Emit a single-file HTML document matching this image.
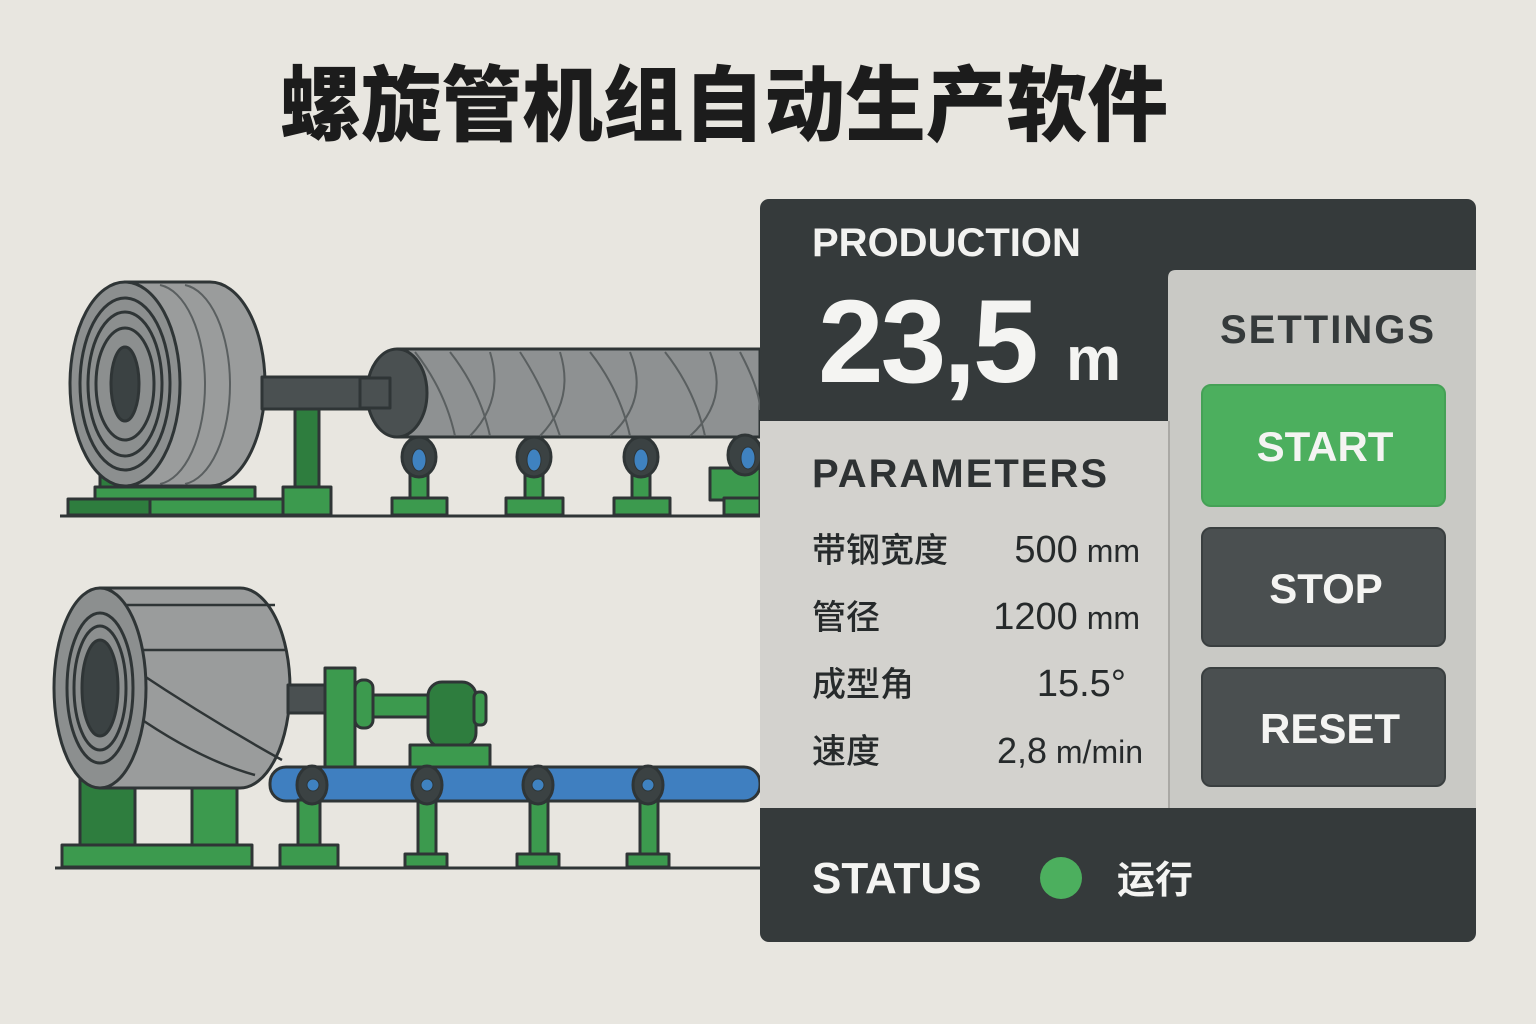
<!DOCTYPE html>
<html><head><meta charset="utf-8"><style>
html,body{margin:0;padding:0;background:#e8e6e0;}
svg{display:block}
text{font-family:"Liberation Sans","Noto Sans CJK SC",sans-serif;}
.cjk{font-family:"Noto Sans CJK SC","Liberation Sans",sans-serif;}
</style></head><body>
<svg width="1536" height="1024" viewBox="0 0 1536 1024" xmlns="http://www.w3.org/2000/svg">
<rect width="1536" height="1024" fill="#e8e6e0"/>
<text x="280" y="134" class="cjk" font-size="82" font-weight="900" fill="#1c1c1c" textLength="888" lengthAdjust="spacingAndGlyphs">螺旋管机组自动生产软件</text>

<g stroke="#2f3536" stroke-width="3" stroke-linejoin="round">
<!-- TOP MACHINE -->
<rect x="100" y="468" width="40" height="30" fill="#2e7d3e"/>
<rect x="180" y="468" width="40" height="30" fill="#2e7d3e"/>
<rect x="95" y="487" width="160" height="12" fill="#3c9a4e"/>
<rect x="68" y="499" width="105" height="16" fill="#2e7d3e"/>
<rect x="150" y="499" width="135" height="16" fill="#3c9a4e"/>
<!-- shaft support -->
<rect x="295" y="405" width="24" height="85" fill="#2e7d3e"/>
<rect x="283" y="487" width="48" height="28" fill="#3c9a4e"/>
<!-- coil drum -->
<path d="M125 282 L210 282 A55 102 0 0 1 210 486 L125 486 Z" fill="#9a9c9c"/>
<path d="M160 285 A50 100 0 0 1 160 484" fill="none" stroke="#5a5f60" stroke-width="2"/>
<path d="M185 285 A50 100 0 0 1 185 484" fill="none" stroke="#5a5f60" stroke-width="2"/>
<ellipse cx="125" cy="384" rx="55" ry="102" fill="#8c8f8f"/>
<ellipse cx="125" cy="384" rx="45" ry="86" fill="none"/>
<ellipse cx="125" cy="384" rx="37" ry="72" fill="none"/>
<ellipse cx="125" cy="384" rx="29" ry="56" fill="none"/>
<ellipse cx="125" cy="384" rx="14" ry="37" fill="#3b4243"/>
<!-- shaft -->
<rect x="262" y="377" width="135" height="32" fill="#4a5051"/>
<!-- tube -->
<path d="M397 349 L760 349 L760 437 L397 437" fill="#8e9192"/>
<ellipse cx="397" cy="393" rx="30" ry="44" fill="#4a5051"/>
<rect x="360" y="378" width="30" height="30" fill="#4a5051"/>
<g fill="none" stroke="#5a5f60" stroke-width="2">
<path d="M415 352 Q445 390 455 436"/><path d="M450 352 Q480 390 490 436"/>
<path d="M490 352 Q505 400 470 436"/><path d="M520 352 Q545 390 560 436"/>
<path d="M560 352 Q575 400 540 436"/><path d="M590 352 Q620 390 630 436"/>
<path d="M630 352 Q650 400 610 436"/><path d="M665 352 Q695 390 705 436"/>
<path d="M710 352 Q730 400 690 436"/><path d="M740 352 Q760 390 760 410"/>
</g>
<g fill="#3c9a4e">
<rect x="410" y="460" width="18" height="40"/><rect x="392" y="498" width="55" height="17"/>
<rect x="525" y="460" width="18" height="40"/><rect x="506" y="498" width="57" height="17"/>
<rect x="632" y="460" width="18" height="40"/><rect x="614" y="498" width="56" height="17"/>
<rect x="710" y="468" width="50" height="32"/><rect x="724" y="498" width="36" height="17"/>
</g>
<g>
<ellipse cx="419" cy="457" rx="17" ry="20" fill="#3b4243"/><ellipse cx="419" cy="460" rx="7" ry="11" fill="#3f82c0" stroke-width="1"/>
<ellipse cx="534" cy="457" rx="17" ry="20" fill="#3b4243"/><ellipse cx="534" cy="460" rx="7" ry="11" fill="#3f82c0" stroke-width="1"/>
<ellipse cx="641" cy="457" rx="17" ry="20" fill="#3b4243"/><ellipse cx="641" cy="460" rx="7" ry="11" fill="#3f82c0" stroke-width="1"/>
<ellipse cx="745" cy="455" rx="17" ry="20" fill="#3b4243"/><ellipse cx="748" cy="458" rx="7" ry="11" fill="#3f82c0" stroke-width="1"/>
</g>
<line x1="60" y1="516" x2="760" y2="516" stroke-width="3"/>

<!-- BOTTOM MACHINE -->
<rect x="80" y="775" width="55" height="75" fill="#2e7d3e"/>
<rect x="192" y="775" width="45" height="75" fill="#3c9a4e"/>
<rect x="62" y="845" width="190" height="22" fill="#3c9a4e"/>
<path d="M100 588 L240 588 A50 100 0 0 1 240 788 L100 788 Z" fill="#9a9c9c"/>
<g fill="none" stroke-width="2.5">
<path d="M125 605 L275 605"/><path d="M130 650 L287 650"/>
<path d="M135 670 Q210 720 282 760"/><path d="M135 715 Q200 760 255 775"/>
</g>
<ellipse cx="100" cy="688" rx="46" ry="100" fill="#8c8f8f"/>
<ellipse cx="100" cy="688" rx="33" ry="75" fill="none"/>
<ellipse cx="100" cy="688" rx="26" ry="62" fill="none"/>
<ellipse cx="100" cy="688" rx="18" ry="48" fill="#3b4243"/>
<rect x="288" y="685" width="40" height="28" fill="#4a5051"/>
<rect x="325" y="668" width="30" height="100" fill="#3c9a4e"/>
<rect x="355" y="680" width="18" height="48" rx="8" fill="#3c9a4e"/>
<rect x="373" y="695" width="55" height="22" fill="#3c9a4e"/>
<rect x="428" y="682" width="48" height="65" rx="14" fill="#2e7d3e"/>
<rect x="474" y="692" width="12" height="33" rx="5" fill="#3c9a4e"/>
<rect x="410" y="745" width="80" height="22" fill="#3c9a4e"/>
<rect x="270" y="767" width="490" height="34" rx="16" fill="#3f7fc0"/>
<g fill="#3c9a4e">
<rect x="298" y="800" width="22" height="48"/><rect x="280" y="845" width="58" height="22"/>
<rect x="418" y="800" width="18" height="55"/><rect x="405" y="854" width="42" height="13"/>
<rect x="530" y="800" width="18" height="55"/><rect x="517" y="854" width="42" height="13"/>
<rect x="640" y="800" width="18" height="55"/><rect x="627" y="854" width="42" height="13"/>
</g>
<g fill="#3b4243">
<ellipse cx="312" cy="785" rx="15" ry="19"/><ellipse cx="427" cy="785" rx="15" ry="19"/>
<ellipse cx="538" cy="785" rx="15" ry="19"/><ellipse cx="648" cy="785" rx="15" ry="19"/>
</g>
<g fill="#3f82c0" stroke-width="1">
<circle cx="313" cy="785" r="6"/><circle cx="427" cy="785" r="6"/><circle cx="538" cy="785" r="6"/><circle cx="648" cy="785" r="6"/>
</g>
<line x1="55" y1="868" x2="760" y2="868" stroke-width="3"/>
</g>

<!-- PANEL -->
<rect x="760" y="199" width="716" height="743" rx="9" fill="#353a3b"/>
<rect x="760" y="421" width="410" height="387" fill="#d3d2ce"/>
<path d="M1168 808 L1168 278 Q1168 270 1176 270 L1476 270 L1476 808 Z" fill="#c9c9c5"/>
<line x1="1169" y1="421" x2="1169" y2="808" stroke="#aaa9a5" stroke-width="2"/>
<text x="812" y="256" font-size="40" font-weight="700" fill="#f2f2f0">PRODUCTION</text>
<text x="818" y="382" font-size="118" font-weight="700" fill="#f4f4f2" letter-spacing="-3">23,5</text>
<text x="1066" y="380" font-size="62" font-weight="700" fill="#f4f4f2">m</text>
<text x="812" y="487" font-size="40" font-weight="700" fill="#2e3233" letter-spacing="2">PARAMETERS</text>
<g font-size="34" fill="#262a2b">
<text x="812" y="562" class="cjk" font-weight="500">带钢宽度</text>
<text x="812" y="629" class="cjk" font-weight="500">管径</text>
<text x="812" y="696" class="cjk" font-weight="500">成型角</text>
<text x="812" y="763" class="cjk" font-weight="500">速度</text>
<text x="1140" y="562" text-anchor="end" font-size="38">500<tspan font-size="32"> mm</tspan></text>
<text x="1140" y="629" text-anchor="end" font-size="38">1200<tspan font-size="32"> mm</tspan></text>
<text x="1126" y="696" text-anchor="end" font-size="38">15.5°</text>
<text x="1143" y="763" text-anchor="end" font-size="36">2,8<tspan font-size="32"> m/min</tspan></text>
</g>
<text x="1220" y="343" font-size="40" font-weight="700" fill="#353a3b" letter-spacing="2">SETTINGS</text>
<rect x="1202" y="385" width="243" height="121" rx="9" fill="#4caf5e" stroke="#45a156" stroke-width="2"/>
<rect x="1202" y="528" width="243" height="118" rx="9" fill="#4a4f50" stroke="#3a3f40" stroke-width="2"/>
<rect x="1202" y="668" width="243" height="118" rx="9" fill="#4a4f50" stroke="#3a3f40" stroke-width="2"/>
<g font-size="42" font-weight="700" fill="#f4f4f2" text-anchor="middle">
<text x="1325" y="461">START</text>
<text x="1326" y="603">STOP</text>
<text x="1330" y="743">RESET</text>
</g>
<text x="812" y="893" font-size="44" font-weight="700" fill="#f4f4f2">STATUS</text>
<circle cx="1061" cy="878" r="21" fill="#4caf5e"/>
<text x="1117" y="893" class="cjk" font-size="38" font-weight="700" fill="#f4f4f2">运行</text>
</svg>
</body></html>
